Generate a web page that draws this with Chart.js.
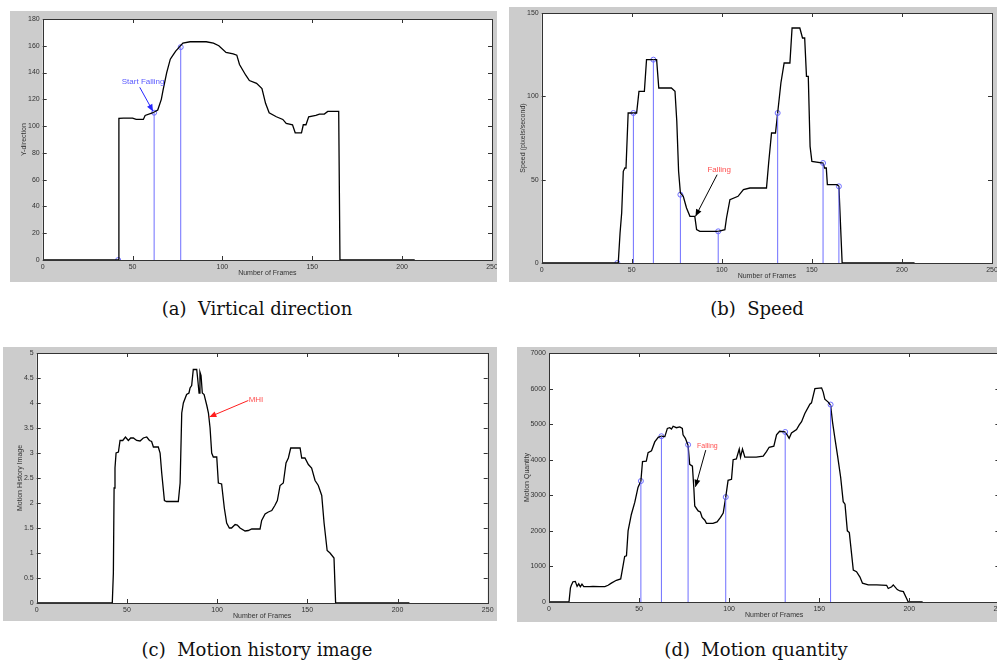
<!DOCTYPE html>
<html>
<head>
<meta charset="utf-8">
<script src="https://cdn.jsdelivr.net/npm/chart.js@4"></script>
<style>
  html, body { margin: 0; padding: 0; background: #fff; width: 997px; height: 662px; overflow: hidden; }
  canvas.panel { position: absolute; background: #cccccc; }
  .cap { position: absolute; width: 400px; text-align: center; white-space: pre;
         font-family: "DejaVu Serif", "Liberation Serif", serif; font-size: 18px; line-height: 1; color: #111; }
</style>
</head>
<body>
<canvas id="chartA" class="panel" width="487" height="271" style="left:10px;top:11px;width:487px;height:271px"></canvas>
<canvas id="chartB" class="panel" width="488" height="275" style="left:509px;top:7px;width:488px;height:275px"></canvas>
<canvas id="chartC" class="panel" width="494" height="274" style="left:3px;top:347px;width:494px;height:274px"></canvas>
<canvas id="chartD" class="panel" width="493" height="275" style="left:517px;top:347px;width:493px;height:275px"></canvas>
<div class="cap" style="left:57px;top:300px">(a)  Virtical direction</div>
<div class="cap" style="left:557px;top:300px">(b)  Speed</div>
<div class="cap" style="left:57px;top:641px">(c)  Motion history image</div>
<div class="cap" style="left:556px;top:641px">(d)  Motion quantity</div>
<script>
'use strict';

// ---------- data (frame, value) ----------
const X_TICKS = [0, 50, 100, 150, 200, 250];

const VERT_Y = [[0,0],[42,0],[42.4,105.8],[45,106],[50,106],[52,105],[56,105],[57,108],[61.4,110],[64,112],
  [66,120],[67,127],[69,140],[71,150],[72.5,153],[74,156],[76,159],[78,162],[82,163],[87,163],[91,163],
  [95,162],[98,160],[102,155],[106,154],[108,153],[109.5,146],[113,138],[115,134],[119,132],[122,128],
  [124,117],[126,110],[130,107],[133.6,105],[135.5,102],[139,101],[140.5,95],[144,95],[145,101],[146.5,101],
  [148,107],[152,108],[154,109],[156.7,109],[158.6,111],[164.7,111],[165.4,0],[207,0]];
const VERT_STEMS = [[62,110],[76.8,159]];
const VERT_MARKS = [[42,0],[62,110],[76.8,159]];
const VERT_NOTE = { text: 'Start Falling', at: [44,133], from: [54,129], to: [61.4,111] };

const SPEED = [[0,0],[42,0],[42.5,0],[43.5,18],[44.4,30],[45.3,55],[46.2,57],[46.8,57],[48,90],[52.7,90],
  [54,103],[57,103],[58.2,122],[63.8,122],[65,105],[72,105],[74,103],[75,85],[76,55],[77,42],[78.6,40],
  [80.4,33],[82.3,28],[85,28],[86,20],[87.8,19],[98,19],[101.7,20],[102.6,27],[104.5,38],[109,40],[112,44],
  [115.6,45],[124.8,45],[126,60],[127.6,78],[129.8,78],[131,90],[132.8,108],[134.6,120],[137.8,120],
  [139,141],[143.3,141],[144.8,135],[146,135],[147,112],[148,112],[149,70],[150,61],[156.2,60],[157,57],
  [158,57],[158.6,47],[164,47],[165,46],[166.8,0],[207,0]];
const SPEED_STEMS = [[50.9,90],[62,122],[77,41],[98,19],[131,90],[156.2,60],[165,46]];
const SPEED_MARKS = [[42,0],[50.9,90],[62,122],[77,41],[98,19],[131,90],[156.2,60],[165,46]];
const SPEED_NOTE = { text: 'Falling', at: [92,56], from: [97.4,53], to: [85.4,28] };

const MHI = [[0,0],[41.9,0],[42.5,0.6],[42.9,2.3],[43.4,2.7],[44,3.0],[45.3,3.02],[46.2,3.25],[47.7,3.25],
  [49.2,3.32],[50.8,3.25],[52.1,3.3],[53.6,3.3],[55.4,3.25],[57.3,3.24],[59.1,3.3],[61,3.32],[62.5,3.25],
  [63.7,3.23],[64.7,3.12],[67.4,3.12],[68.4,3.0],[69.3,2.6],[70.8,2.05],[72,2.03],[78.5,2.03],[79.5,2.4],
  [80.4,3.8],[81.3,4.0],[83.1,4.17],[84.4,4.2],[85,4.3],[85.9,4.35],[86.8,4.67],[88.7,4.67],[89.2,4.5],
  [90,4.2],[90.5,4.62],[91.1,4.55],[91.8,4.2],[92.8,4.17],[94.3,3.95],[95.2,3.8],[96.1,3.5],[97,3.0],
  [97.9,2.92],[99.8,2.92],[100.7,2.4],[102.5,2.38],[104,1.9],[105.3,1.6],[106.8,1.5],[108,1.5],[110,1.57],
  [111.2,1.56],[112.7,1.5],[115.5,1.44],[117.3,1.45],[119.2,1.48],[123.8,1.48],[124.7,1.65],[126.6,1.78],
  [128.4,1.82],[130.3,1.85],[132,1.95],[133.4,2.05],[134.9,2.35],[136.7,2.4],[138.2,2.8],[139.5,2.9],
  [140.8,3.1],[146,3.1],[146.9,2.9],[148.7,2.9],[150.6,2.77],[152.4,2.7],[154.3,2.45],[156.1,2.35],
  [158,2.15],[159.3,1.6],[161,1.05],[162.6,1.0],[164.8,0.9],[165.7,0],[206.6,0]];
const MHI_NOTE = { text: 'MHI', at: [117.5,4.07], from: [117.3,4.05], to: [95.7,3.72] };

const QUANTITY = [[0,0],[11.1,0],[11.9,400],[12.4,470],[13.3,570],[14.6,580],[15.6,440],[16.5,510],
  [17.4,430],[18.3,500],[19.3,430],[22.6,430],[24.4,440],[28,430],[31,430],[32.8,470],[34.6,530],
  [37.4,610],[39.8,650],[40.7,900],[42,1280],[43,1300],[43.9,2000],[45.7,2460],[47.6,2800],[49.4,3220],
  [51,3400],[51.9,3950],[54,3960],[55,4200],[56.9,4250],[58.7,4500],[60.6,4630],[62.4,4660],[64.3,4650],
  [65.7,4880],[67,4900],[68,4860],[68.9,4940],[70.7,4900],[72.6,4920],[74,4880],[74.4,4700],[75.7,4600],
  [77.2,4400],[78.1,3870],[79.6,3820],[80.4,3200],[80.9,2700],[82.8,2560],[84,2530],[85,2380],[86.5,2300],
  [87.4,2210],[91,2210],[93.3,2250],[95.2,2380],[96.7,2500],[98.1,2950],[99.4,3420],[101.3,3450],
  [102.2,4000],[104,4020],[105.6,4300],[106.3,4070],[107.4,4300],[108.7,4070],[111.5,4070],[115,4070],
  [118.9,4100],[120.7,4230],[122.2,4350],[124.8,4380],[126.3,4700],[128,4800],[130.9,4780],[132.2,4700],
  [133.3,4600],[134.6,4750],[137.4,4850],[138.9,4980],[140.2,5070],[142,5300],[144.8,5560],[145.7,5600],
  [147.6,6000],[151.3,6020],[152.2,5900],[153.1,5700],[155,5620],[156.3,5530],[157.4,5050],[158.7,4600],
  [160.2,4100],[161.9,3500],[163.3,2820],[164.3,2750],[165.6,2000],[166.7,1950],[168.9,900],[170.7,850],
  [172.6,700],[174,530],[177.2,480],[181.9,480],[187.4,470],[188.3,380],[190.2,430],[191.1,480],
  [193.3,350],[194.8,310],[196.7,290],[198.5,100],[199.4,0],[207.4,0]];
const QUANTITY_STEMS = [[51,3400],[62.4,4660],[77.2,4420],[98.1,2950],[131.1,4780],[156.3,5550]];
const QUANTITY_NOTE = { text: 'Falling', at: [82.2,4380], from: [87,4270], to: [81.3,3240] };

// ---------- helpers ----------
const STEM = 'rgb(110,110,255)';
const AXIS = '#333';
const SMALL = { family: 'Liberation Sans, Arial, sans-serif', size: 7 };
const pts = (arr) => arr.map(([x, y]) => ({ x, y }));
const stems = (arr) => arr.flatMap(([x, y]) => [{ x, y: 0 }, { x, y }, { x, y: null }]);

function arrow(ctx, x1, y1, x2, y2, color) {
  ctx.save();
  ctx.strokeStyle = color; ctx.fillStyle = color; ctx.lineWidth = 1;
  ctx.beginPath(); ctx.moveTo(x1, y1); ctx.lineTo(x2, y2); ctx.stroke();
  const a = Math.atan2(y2 - y1, x2 - x1), L = 7, W = 3;
  ctx.beginPath();
  ctx.moveTo(x2, y2);
  ctx.lineTo(x2 - L * Math.cos(a) + W * Math.sin(a), y2 - L * Math.sin(a) - W * Math.cos(a));
  ctx.lineTo(x2 - L * Math.cos(a) - W * Math.sin(a), y2 - L * Math.sin(a) + W * Math.cos(a));
  ctx.closePath(); ctx.fill();
  ctx.restore();
}

// white axes area, matlab box with inward ticks, text arrows
const matlabAxes = {
  id: 'matlabAxes',
  beforeDraw(chart) {
    const { ctx, chartArea: a } = chart;
    ctx.save();
    ctx.fillStyle = '#fff';
    ctx.fillRect(a.left, a.top, a.right - a.left, a.bottom - a.top);
    ctx.restore();
  },
  afterDraw(chart, args, opts) {
    const { ctx, chartArea: a, scales: { x, y } } = chart;
    ctx.save();
    ctx.strokeStyle = AXIS; ctx.lineWidth = 1;
    ctx.strokeRect(Math.round(a.left) + 0.5, Math.round(a.top) + 0.5,
      Math.round(a.right - a.left), Math.round(a.bottom - a.top));
    ctx.beginPath();
    x.ticks.forEach((t) => {
      const px = Math.round(x.getPixelForValue(t.value)) + 0.5;
      ctx.moveTo(px, a.bottom); ctx.lineTo(px, a.bottom - 4);
      ctx.moveTo(px, a.top); ctx.lineTo(px, a.top + 4);
    });
    y.ticks.forEach((t) => {
      const py = Math.round(y.getPixelForValue(t.value)) + 0.5;
      ctx.moveTo(a.left, py); ctx.lineTo(a.left + 4, py);
      ctx.moveTo(a.right, py); ctx.lineTo(a.right - 4, py);
    });
    ctx.stroke();
    const n = opts.note;
    if (n) {
      arrow(ctx, x.getPixelForValue(n.from[0]), y.getPixelForValue(n.from[1]),
        x.getPixelForValue(n.to[0]), y.getPixelForValue(n.to[1]), opts.arrowColor);
      ctx.fillStyle = opts.textColor;
      ctx.font = `${opts.textSize}px Liberation Sans, Arial, sans-serif`;
      ctx.textAlign = 'left'; ctx.textBaseline = 'middle';
      ctx.fillText(n.text, x.getPixelForValue(n.at[0]), y.getPixelForValue(n.at[1]));
    }
    ctx.restore();
  },
};

function makePanel(id, p) {
  const datasets = [];
  if (p.stems) datasets.push({ data: stems(p.stems), borderColor: STEM, borderWidth: 1,
    pointRadius: 0, spanGaps: false });
  datasets.push({ data: pts(p.series), borderColor: '#000', borderWidth: 1.3, pointRadius: 0 });
  if (p.marks) datasets.push({ data: pts(p.marks), showLine: false, pointRadius: 2.5,
    pointStyle: 'circle', borderColor: STEM, backgroundColor: 'rgba(0,0,0,0)', pointBorderWidth: 1 });

  return new Chart(document.getElementById(id).getContext('2d'), {
    type: 'line',
    data: { datasets },
    options: {
      responsive: false, animation: false, events: [],
      layout: { padding: { left: 0, top: p.pt, right: p.pr, bottom: 0 } },
      plugins: { legend: { display: false }, tooltip: { enabled: false }, matlabAxes: p.notes },
      scales: {
        x: {
          type: 'linear', min: 0, max: 250,
          afterBuildTicks: (s) => { s.ticks = X_TICKS.map((v) => ({ value: v })); },
          afterFit: (s) => { s.height = p.xh; s.paddingLeft = 0; s.paddingRight = 0; },
          grid: { display: false, drawTicks: false }, border: { display: false },
          ticks: { autoSkip: false, maxRotation: 0, padding: 3, color: AXIS, font: SMALL, callback: (v) => String(v) },
          title: { display: true, text: 'Number of Frames', color: AXIS, font: SMALL, padding: { top: 0, bottom: p.xtp } },
        },
        y: {
          type: 'linear', min: 0, max: p.yMax,
          afterBuildTicks: (s) => { s.ticks = p.yTicks.map((v) => ({ value: v })); },
          afterFit: (s) => { s.width = p.yw; s.paddingTop = 0; s.paddingBottom = 0; },
          grid: { display: false, drawTicks: false }, border: { display: false },
          ticks: { autoSkip: false, padding: 3, color: AXIS, font: SMALL, callback: (v) => String(v) },
          title: { display: true, text: p.yTitle, color: AXIS, font: SMALL, padding: { top: p.ytp, bottom: 0 } },
        },
      },
    },
    plugins: [matlabAxes],
  });
}

// ---------- panels ----------
makePanel('chartA', {
  series: VERT_Y, stems: VERT_STEMS, marks: VERT_MARKS,
  yMax: 180, yTicks: [0, 20, 40, 60, 80, 100, 120, 140, 160, 180], yTitle: 'Y-direction',
  yw: 32.7, xh: 22, pt: 8, pr: 4, xtp: 4.8, ytp: 9.8,
  notes: { note: VERT_NOTE, textColor: 'rgb(90,90,255)', arrowColor: 'rgb(40,40,255)', textSize: 8 },
});

makePanel('chartB', {
  series: SPEED, stems: SPEED_STEMS, marks: SPEED_MARKS,
  yMax: 150, yTicks: [0, 50, 100, 150], yTitle: 'Speed (pixels/second)',
  yw: 32.7, xh: 19, pt: 6, pr: 5, xtp: 2, ytp: 10,
  notes: { note: SPEED_NOTE, textColor: 'rgb(255,80,80)', arrowColor: '#000', textSize: 8 },
});

makePanel('chartC', {
  series: MHI,
  yMax: 5, yTicks: [0, 0.5, 1, 1.5, 2, 2.5, 3, 3.5, 4, 4.5, 5], yTitle: 'Motion History Image',
  yw: 33.7, xh: 18, pt: 6, pr: 9.3, xtp: 1, ytp: 13,
  notes: { note: MHI_NOTE, textColor: 'rgb(255,80,80)', arrowColor: 'rgb(255,30,30)', textSize: 8 },
});

makePanel('chartD', {
  series: QUANTITY, stems: QUANTITY_STEMS, marks: QUANTITY_STEMS,
  yMax: 7000, yTicks: [0, 1000, 2000, 3000, 4000, 5000, 6000, 7000], yTitle: 'Motion Quantity',
  yw: 32, xh: 20, pt: 6, pr: 10.6, xtp: 3, ytp: 6,
  notes: { note: QUANTITY_NOTE, textColor: 'rgb(255,80,80)', arrowColor: '#000', textSize: 7 },
});
</script>
</body>
</html>
